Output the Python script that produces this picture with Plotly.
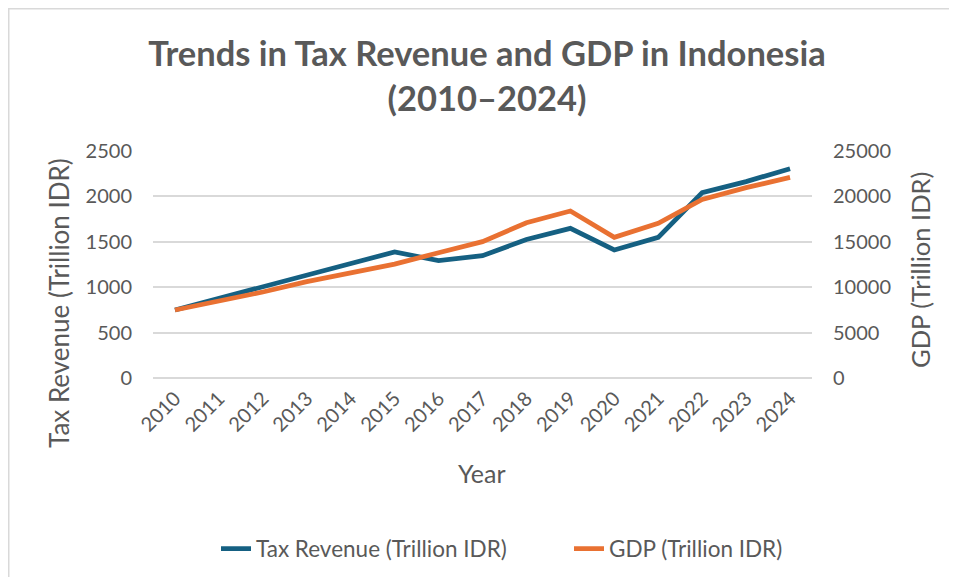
import plotly.graph_objects as go

years = [str(y) for y in range(2010, 2025)]
tax_revenue = [749, 877, 1006, 1134, 1263, 1388, 1292, 1347, 1525, 1648, 1410, 1549, 2041, 2163, 2305]
gdp = [7490, 8480, 9470, 10610, 11630, 12550, 13800, 15020, 17100, 18390, 15490, 17030, 19670, 20960, 22090]
left_ticks = [0, 500, 1000, 1500, 2000, 2500]
right_ticks = [0, 5000, 10000, 15000, 20000, 25000]

# page has an 8px body margin, so figure coords = screenshot coords - 8
OFF = 8
W, H = 957, 577
L, R, T, B = 153 - OFF, 957 - (812 - OFF), 151 - OFF, 577 - (378 - OFF)
pw, ph = W - L - R, H - T - B
FONT = "Lato"
GREY = "#595959"
BLUE = "#156082"
ORANGE = "#E97132"

def px_x(x):
    return (x - OFF - L) / pw

def px_y(y):
    return (H - B - (y - OFF)) / ph

fig = go.Figure()
fig.add_trace(go.Scatter(x=years, y=tax_revenue, mode="lines", name="Tax Revenue (Trillion IDR)",
                         line=dict(color=BLUE, width=4.8), yaxis="y", legend="legend"))
fig.add_trace(go.Scatter(x=years, y=gdp, mode="lines", name="GDP (Trillion IDR)",
                         line=dict(color=ORANGE, width=4.8), yaxis="y2", legend="legend2"))

legend_common = dict(orientation="h", yanchor="middle", font=dict(size=22.5, color=GREY),
                     bgcolor="rgba(0,0,0,0)", borderwidth=0)

fig.update_layout(
    width=W, height=H,
    margin=dict(l=L, r=R, t=T, b=B, autoexpand=False),
    paper_bgcolor="white", plot_bgcolor="white",
    font=dict(family=FONT, color=GREY, size=20),
    title=dict(text="<b>Trends in Tax Revenue and GDP in Indonesia<br>(2010–2024)</b>",
               x=(487 - OFF) / W, xref="container", xanchor="center",
               y=1 - (66 - OFF) / H, yref="container", yanchor="middle",
               font=dict(family=FONT, size=34.5, color=GREY)),
    xaxis=dict(type="category", range=[-0.5, 14.5], tickangle=-45, showgrid=False,
               showline=False, zeroline=False, ticks="", ticklabelstandoff=4,
               tickfont=dict(size=20, color=GREY)),
    yaxis=dict(range=[0, 2500], tickvals=left_ticks, showgrid=True, gridcolor="#d9d9d9",
               gridwidth=1.5, zeroline=True, zerolinecolor="#d9d9d9", zerolinewidth=1.5,
               showline=False, ticks="", ticklabelstandoff=20, tickformat="d",
               tickfont=dict(size=20, color=GREY)),
    yaxis2=dict(range=[0, 25000], tickvals=right_ticks, overlaying="y", side="right",
                showgrid=False, zeroline=False, showline=False, ticks="", tickformat="d",
                ticklabelstandoff=20, tickfont=dict(size=20, color=GREY)),
    legend=dict(x=px_x(216), xanchor="left", y=px_y(549), **legend_common),
    legend2=dict(x=px_x(569), xanchor="left", y=px_y(549), **legend_common),
    showlegend=True,
)

fig.add_annotation(text="Year", xref="paper", yref="paper", x=px_x(482), y=px_y(473),
                   xanchor="center", yanchor="middle", showarrow=False,
                   font=dict(size=25, color=GREY, family=FONT))
fig.add_annotation(text="Tax Revenue (Trillion IDR)", xref="paper", yref="paper",
                   x=px_x(59), y=px_y(303), xanchor="center", yanchor="middle", textangle=-90,
                   showarrow=False, font=dict(size=26, color=GREY, family=FONT))
fig.add_annotation(text="GDP (Trillion IDR)", xref="paper", yref="paper",
                   x=px_x(920), y=px_y(270), xanchor="center", yanchor="middle", textangle=-90,
                   showarrow=False, font=dict(size=25.5, color=GREY, family=FONT))

fig.add_shape(type="rect", xref="paper", yref="paper",
              x0=-L / pw + 0.75 / pw, x1=px_x(1010), y0=px_y(650), y1=(H - B - 0.75) / ph,
              line=dict(color="#d9d9d9", width=1.5), fillcolor="rgba(0,0,0,0)", layer="below")

fig.write_html("out.html")
